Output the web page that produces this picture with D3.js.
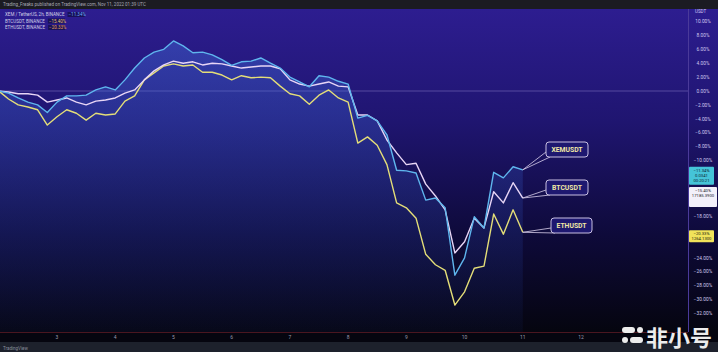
<!DOCTYPE html>
<html>
<head>
<meta charset="utf-8">
<script src="https://cdn.jsdelivr.net/npm/d3@7"></script>
<style>
  body { margin: 0; background: #000; }
  svg { display: block; }
</style>
</head>
<body>
<div id="chart"></div>
<script>
// 4h samples, % change since Nov 2 2022 00:00 UTC
const startTime = Date.UTC(2022, 10, 2);
const stepHours = 4;

const xemPct = [0, -0.3, -1.0, -1.6, -2.0, -3.1, -1.6, -0.7, -0.7, -0.6, 0.15, 0.6, 0.15, 1.6, 3.3, 4.75, 5.6, 6.0, 7.2, 6.5,
  5.5, 5.6, 5.2, 4.5, 3.7, 4.2, 4.3, 4.75, 4.0, 3.3, 2.0, 1.3, 0.6, 2.2, 2.0, 1.4, 1.0, -3.9, -3.5, -4.3,
  -6.3, -11.4, -11.5, -11.8, -15.7, -15.4, -16.8, -26.5, -24.0, -18.1, -19.7, -11.7, -12.5, -10.9, -11.34];
const btcPct = [0, -0.15, -0.4, -0.4, -0.6, -1.6, -1.3, -1.0, -1.6, -2.0, -1.45, -1.3, -1.0, -0.3, 0.15, 1.6, 2.9, 3.75, 4.3, 4.0,
  4.2, 3.75, 4.0, 3.9, 3.6, 3.3, 3.45, 3.6, 3.6, 3.2, 1.6, 1.0, 0.7, 1.0, 1.3, 0.7, 0.6, -3.45, -3.45, -4.3,
  -7.05, -8.9, -10.6, -10.4, -13.4, -15.1, -17.1, -23.3, -21.7, -18.3, -19.7, -14.5, -16.1, -13.2, -15.40];
const ethPct = [0, -1.15, -2.0, -2.3, -2.7, -4.9, -3.7, -2.7, -3.2, -4.2, -3.2, -3.45, -3.3, -1.45, -0.7, 1.6, 2.6, 3.6, 3.9, 3.6,
  3.75, 2.7, 2.7, 2.3, 1.6, 2.2, 1.9, 2.0, 1.9, 0.7, -0.4, -0.7, -1.9, -0.6, 0.15, -1.0, -1.6, -7.5, -6.6, -7.8,
  -10.6, -16.1, -16.8, -18.3, -23.5, -25.0, -25.8, -30.8, -28.9, -25.5, -25.2, -17.7, -20.6, -17.1, -20.33];

const dayTicks = [3, 4, 5, 6, 7, 8, 9, 10, 11, 12];
const pctTicks = d3.range(10, -33, -2);

const seriesNames = ['XEMUSDT', 'BTCUSDT', 'ETHUSDT'];
const legendNames = ['XEM / TetherUS, 2h, BINANCE', 'BTCUSDT, BINANCE', 'ETHUSDT, BINANCE'];
const lastPrices = [['0.0341', '00:20:21'], ['17185.3900'], ['1264.1300']];

const W = 718, H = 352;
const paneTop = 9, paneBottom = 332, axisX = 688;

const svg = d3.select('#chart').append('svg')
  .attr('width', W).attr('height', H)
  .style('font-family', 'Roboto, sans-serif');

const defs = svg.append('defs');
const bg = defs.append('linearGradient').attr('id', 'bg')
  .attr('gradientUnits', 'userSpaceOnUse')
  .attr('x1', 0).attr('y1', paneTop).attr('x2', 0).attr('y2', paneBottom);
bg.append('stop').attr('offset', 0).attr('stop-color', '#2d1d90');
bg.append('stop').attr('offset', 0.35).attr('stop-color', '#1f1570');
bg.append('stop').attr('offset', 0.7).attr('stop-color', '#0e0a3a');
bg.append('stop').attr('offset', 1).attr('stop-color', '#05050f');

const areaGrad = defs.append('linearGradient').attr('id', 'areaGrad')
  .attr('gradientUnits', 'userSpaceOnUse')
  .attr('x1', 0).attr('y1', 40).attr('x2', 0).attr('y2', paneBottom);
areaGrad.append('stop').attr('offset', 0).attr('stop-color', 'rgb(70,120,230)').attr('stop-opacity', 0.38);
areaGrad.append('stop').attr('offset', 1).attr('stop-color', 'rgb(40,70,190)').attr('stop-opacity', 0.06);

// backgrounds
svg.append('rect').attr('width', W).attr('height', H).attr('fill', '#05050f');
svg.append('rect').attr('y', paneTop).attr('width', W).attr('height', paneBottom - paneTop).attr('fill', 'url(#bg)');
svg.append('rect').attr('width', W).attr('height', paneTop).attr('fill', '#1b1b22');
svg.append('rect').attr('y', 342).attr('width', W).attr('height', 10).attr('fill', '#1d212c');

const x = d3.scaleUtc()
  .domain([new Date(startTime), new Date(Date.UTC(2022, 10, 12))])
  .range([-1.2, 581]);
const y = d3.scaleLinear().domain([0, -10]).range([91, 160.5]);

const time = i => new Date(startTime + i * stepHours * 3600e3);

// zero line
svg.append('line').attr('x1', 0).attr('x2', axisX).attr('y1', y(0)).attr('y2', y(0))
  .attr('stroke', '#b9a8e8').attr('stroke-opacity', 0.5).attr('stroke-width', 0.7);

// main series area
const area = d3.area().x((d, i) => x(time(i))).y0(paneBottom).y1(d => y(d));
svg.append('path').datum(xemPct).attr('d', area).attr('fill', 'url(#areaGrad)');

const line = d3.line().x((d, i) => x(time(i))).y(d => y(d));
const colors = ['#5fb6ee', '#e8d6f6', '#e4de78'];
[ethPct, btcPct, xemPct].forEach((s, k) => {
  svg.append('path').datum(s).attr('d', line)
    .attr('fill', 'none')
    .attr('stroke', colors[2 - k])
    .attr('stroke-width', 1.4)
    .attr('stroke-linejoin', 'round');
});

// bottom border and x axis
svg.append('line').attr('x1', 0).attr('x2', axisX).attr('y1', paneBottom + 0.5).attr('y2', paneBottom + 0.5)
  .attr('stroke', '#4a1620').attr('stroke-width', 1);
svg.append('g').selectAll('text').data(dayTicks).join('text')
  .attr('x', d => x(new Date(Date.UTC(2022, 10, d))))
  .attr('y', 339)
  .attr('text-anchor', 'middle')
  .attr('fill', '#9a9aae')
  .attr('font-size', 5)
  .text(d => d);

// right axis
svg.append('line').attr('x1', axisX + 0.5).attr('x2', axisX + 0.5).attr('y1', paneTop).attr('y2', paneBottom)
  .attr('stroke', '#4a3a9a').attr('stroke-width', 1);

const lastVals = [xemPct, btcPct, ethPct].map(s => s[s.length - 1]);
const boxes = [
  { top: y(lastVals[0]) - 3, h: 18, w: 25, fill: '#45c4d8', text: '#0c1e30' },
  { top: y(lastVals[1]) - 11, h: 20, w: 28, fill: '#f2f0fa', text: '#1a1a28' },
  { top: y(lastVals[2]) - 2, h: 12, w: 25, fill: '#f1e35a', text: '#1a1a10' }
];

const fmt = v => (v < 0 ? '\u2212' : '') + Math.abs(v).toFixed(2) + '%';
const hidden = v => boxes.some(b => y(v) > b.top - 2 && y(v) < b.top + b.h + 2);

svg.append('text').attr('x', 695).attr('y', 13).attr('fill', '#d0c8f0').attr('font-size', 4.5).text('USDT');
svg.append('g').selectAll('text').data(pctTicks.filter(v => !hidden(v))).join('text')
  .attr('x', 703)
  .attr('y', d => y(d) + 1.7)
  .attr('text-anchor', 'middle')
  .attr('fill', '#cfc8ee')
  .attr('font-size', 4.8)
  .text(fmt);

boxes.forEach((b, k) => {
  const g = svg.append('g');
  g.append('rect').attr('x', 689).attr('y', b.top).attr('width', b.w).attr('height', b.h)
    .attr('rx', 1).attr('fill', b.fill);
  const lines = [fmt(lastVals[k])].concat(lastPrices[k]);
  g.selectAll('text').data(lines).join('text')
    .attr('x', 689 + b.w / 2)
    .attr('y', (d, i) => b.top + 5 + i * 5.2)
    .attr('text-anchor', 'middle')
    .attr('fill', b.text)
    .attr('font-size', 4.2)
    .text(d => d);
});

// header + legend
svg.append('text').attr('x', 3).attr('y', 6).attr('fill', '#a8a8b4').attr('font-size', 4.5)
  .text('Trading_Freaks published on TradingView.com, Nov 11, 2022 01:39 UTC');

const legendColors = ['#6fb0ff', '#e6c27a', '#e6a060'];
legendNames.forEach((name, k) => {
  const ly = 16 + k * 6.5;
  const t = svg.append('text').attr('x', 5).attr('y', ly).attr('fill', '#d2d0e6').attr('font-size', 4.5).text(name);
  const w = t.node().getComputedTextLength();
  svg.append('rect').attr('x', 5 + w + 3).attr('y', ly - 4).attr('width', 17).attr('height', 5)
    .attr('fill', '#15104a').attr('opacity', 0.8);
  svg.append('text').attr('x', 5 + w + 4).attr('y', ly).attr('fill', legendColors[k]).attr('font-size', 4.5)
    .text(fmt(lastVals[k]));
});

// callouts
const callouts = [
  { bx: 546, by: 142, w: 42 },
  { bx: 546, by: 180, w: 42 },
  { bx: 551, by: 218, w: 41 }
];
const endX = x(time(xemPct.length - 1));
callouts.forEach((c, k) => {
  const ty = y(lastVals[k]);
  const g = svg.append('g');
  g.append('line').attr('x1', c.bx).attr('y1', c.by + 10).attr('x2', endX).attr('y2', ty)
    .attr('stroke', '#d9cfec').attr('stroke-width', 0.8);
  g.append('line').attr('x1', c.bx + 4).attr('y1', c.by + 15).attr('x2', endX).attr('y2', ty)
    .attr('stroke', '#d9cfec').attr('stroke-width', 0.8);
  g.append('rect').attr('x', c.bx).attr('y', c.by).attr('width', c.w).attr('height', 15)
    .attr('rx', 3).attr('fill', '#1e1870').attr('stroke', '#c8bfe2').attr('stroke-width', 1);
  g.append('text').attr('x', c.bx + c.w / 2).attr('y', c.by + 10)
    .attr('text-anchor', 'middle').attr('fill', '#f1e8a6')
    .attr('font-size', 6.8).attr('font-weight', 'bold')
    .text(seriesNames[k]);
});

// footer logo text
svg.append('text').attr('x', 3).attr('y', 349.5).attr('fill', '#8a8e9c').attr('font-size', 4.5)
  .text('TradingView');

// watermark
const wm = svg.append('g').attr('fill', '#ececec');
wm.append('rect').attr('x', 622).attr('y', 327).attr('width', 13).attr('height', 6).attr('rx', 3);
wm.append('circle').attr('cx', 640).attr('cy', 330).attr('r', 3);
wm.append('circle').attr('cx', 625).attr('cy', 340).attr('r', 3);
wm.append('rect').attr('x', 630).attr('y', 337).attr('width', 13).attr('height', 6).attr('rx', 3);
wm.append('text').attr('x', 646).attr('y', 346).attr('font-size', 22).attr('font-weight', 'bold')
  .attr('font-family', '"Noto Sans CJK SC", sans-serif').text('非小号');
</script>
</body>
</html>
